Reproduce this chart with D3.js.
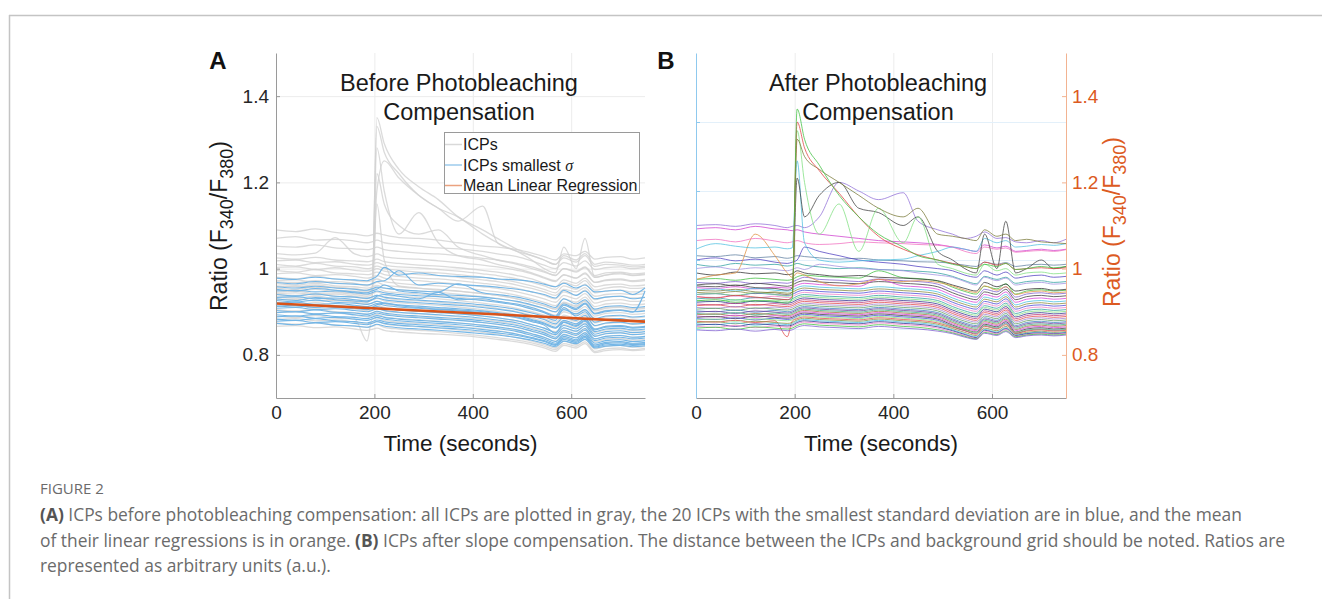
<!DOCTYPE html>
<html><head><meta charset="utf-8">
<script src="https://cdn.jsdelivr.net/npm/d3@7"></script>
<style>body{margin:0;background:#fff}svg{display:block}</style>
</head><body>
<svg id="c" width="1322" height="599"></svg>
<script>
// ---------- DATA ----------
const times = [0,40,80,120,160,185,195,205,220,250,290,330,370,420,450,490,520,545,568,585,610,628,648,670,700,725,750];
const xTicks = [0,200,400,600];
const yTicks = [0.8,1.0,1.2,1.4];
const yTickLabels = ["0.8","1","1.2","1.4"];
const hiddenLeftTicksB = [1,2,3,4];

// Panel A: all ICPs (gray)
const grayA = [
[1.090,1.086,1.092,1.084,1.080,1.076,1.078,1.082,1.078,1.072,1.070,1.066,1.060,1.052,1.050,1.044,1.036,1.028,1.020,1.034,1.030,1.040,1.022,1.026,1.028,1.022,1.025],
[1.070,1.074,1.066,1.068,1.064,1.060,1.062,1.066,1.060,1.056,1.052,1.048,1.046,1.040,1.034,1.028,1.018,1.008,1.000,1.014,1.006,1.018,.998,1.002,1.004,1.000,1.003],
[1.052,1.050,1.055,1.048,1.046,1.044,1.046,1.050,1.044,1.040,1.036,1.034,1.030,1.024,1.020,1.012,1.004,.994,.984,1.000,.994,1.004,.984,.990,.992,.988,.990],
[1.035,1.032,1.036,1.072,1.034,1.028,1.030,1.034,1.028,1.024,1.022,1.018,1.014,1.008,1.004,.996,.988,.978,.970,.986,.978,.990,.968,.974,.976,.972,.975],
[1.025,1.022,1.026,1.020,1.018,1.016,1.018,1.022,1.016,1.012,1.008,1.006,1.002,.996,.992,.984,.976,.966,.958,.974,.966,.978,.958,.962,.964,.960,.962],
[1.018,1.020,1.014,1.016,1.010,1.008,1.010,1.014,1.008,1.004,1.002,.998,.994,.988,.984,.976,.968,.960,.952,.968,.960,.972,.950,.955,.958,.954,.956],
[1.010,1.006,1.012,1.006,1.004,1.000,1.002,1.006,1.000,.996,.992,.990,.986,.980,.976,.968,.960,.952,.944,.960,.952,.964,.944,.948,.950,.946,.948],
[1.003,1.004,.998,1.002,.996,.994,.996,1.000,.994,.990,.986,.984,.980,.974,.970,.962,.954,.946,.938,.952,.946,.956,.936,.940,.942,.940,.942],
[.996,.992,.998,.990,.988,.986,.988,.992,.986,.982,.978,.976,.972,.966,.962,.954,.946,.938,.930,.946,.938,.950,.928,.934,.936,.932,.934],
[.988,.990,.984,.986,.982,.978,.980,.984,.978,.974,.972,.968,.964,.958,.954,.946,.938,.930,.922,.938,.930,.942,.920,.926,.928,.924,.926],
[.980,.976,.982,.976,.972,.970,.972,.976,.970,.966,.962,.960,.956,.950,.946,.938,.930,.922,.914,.930,.922,.934,.912,.918,.920,.916,.918],
[.972,.974,.968,.970,.966,.962,.964,.968,.962,.958,.954,.952,.948,.942,.938,.930,.922,.914,.906,.922,.914,.926,.904,.910,.912,.908,.910],
[.965,.962,.966,.960,.958,.955,.957,.961,.955,.951,.948,.945,.941,.935,.931,.923,.915,.907,.899,.915,.907,.919,.897,.903,.905,.901,.903],
[.958,.960,.955,.957,.952,.948,.950,.954,.948,.944,.941,.938,.934,.928,.924,.916,.908,.900,.892,.908,.900,.912,.890,.896,.898,.894,.896],
[.950,.947,.952,.946,.943,.940,.942,.946,.940,.936,.933,.930,.926,.920,.916,.908,.900,.892,.884,.900,.892,.904,.882,.888,.890,.886,.888],
[.942,.944,.939,.941,.936,.932,.934,.938,.932,.928,.925,.922,.918,.912,.908,.900,.892,.884,.876,.892,.884,.896,.874,.880,.882,.878,.880],
[.935,.932,.936,.930,.928,.925,.927,.931,.925,.921,.918,.915,.911,.905,.901,.893,.885,.877,.869,.885,.877,.889,.867,.873,.875,.871,.873],
[.928,.930,.925,.927,.922,.918,.920,.924,.918,.914,.911,.908,.904,.898,.894,.886,.878,.870,.862,.878,.870,.882,.860,.866,.868,.864,.866],
[.920,.917,.921,.915,.913,.910,.912,.916,.910,.906,.903,.900,.896,.890,.886,.878,.870,.862,.854,.870,.862,.874,.852,.858,.860,.856,.858],
[.912,.914,.909,.911,.906,.902,.904,.908,.902,.898,.895,.892,.888,.882,.878,.870,.862,.854,.846,.862,.854,.866,.844,.850,.852,.848,.850],
[.905,.902,.906,.900,.898,.895,.897,.901,.895,.891,.888,.885,.881,.875,.871,.863,.855,.847,.839,.855,.847,.859,.837,.843,.845,.841,.843],
[.898,.900,.895,.897,.892,.888,.890,.894,.888,.884,.881,.878,.874,.868,.864,.856,.848,.840,.832,.848,.840,.852,.830,.836,.838,.834,.836],
[.890,.887,.891,.885,.883,.832,.882,.886,.880,.876,.873,.870,.866,.860,.856,.848,.840,.832,.824,.840,.832,.844,.822,.828,.830,.826,.828],
[.882,.884,.879,.881,.876,.872,.874,.878,.872,.868,.865,.862,.858,.852,.848,.840,.832,.824,.816,.832,.824,.836,.814,.820,.822,.818,.820],
[.874,.871,.875,.869,.867,.864,.866,.870,.864,.860,.857,.854,.850,.844,.840,.834,.828,.820,.812,.826,.820,.830,.808,.814,.816,.812,.815],
[.866,.868,.863,.865,.860,.857,.859,.862,.857,.853,.850,.848,.845,.840,.836,.830,.824,.816,.808,.822,.816,.826,.805,.810,.812,.810,.812],
[.930,.928,.932,.926,.924,.922,.930,1.350,1.290,1.230,1.190,1.160,1.120,1.090,1.070,1.045,1.030,1.020,1.010,1.025,1.015,1.030,1.005,1.010,1.008,1.004,1.006],
[.945,.948,.942,.944,.940,.936,.940,1.330,1.270,1.220,1.170,1.140,1.110,1.145,1.060,1.040,1.020,1.000,.990,1.050,1.000,1.070,.980,.985,.990,.985,.988],
[.960,.958,.962,.956,.954,.950,.955,1.280,1.180,1.080,1.130,1.060,1.030,1.020,1.010,1.000,.990,.980,.972,.985,.978,.988,.968,.972,.974,.970,.972],
[.970,.968,.972,.966,.964,.960,.965,1.180,1.250,1.210,1.170,1.140,1.120,1.080,1.060,1.040,1.030,1.020,1.010,1.030,1.020,1.035,1.010,1.015,1.012,1.008,1.010],
[.940,.938,.942,.936,.934,.930,.934,1.150,1.020,.960,.955,.950,.948,.942,.938,.930,.922,.914,.906,.920,.912,.924,.902,.908,.910,.906,.908],
[.955,.952,.957,.950,.948,.945,.950,1.220,1.150,1.100,1.080,1.090,1.050,1.030,1.020,1.010,1.000,.992,.985,1.000,.992,1.002,.980,.985,.988,.984,.986]
];

// Panel A: 20 ICPs with smallest standard deviation (blue)
const blueA = [
[.978,.975,.980,.976,.974,.972,.976,.982,1.003,.985,.990,.984,.982,.980,.976,.974,.970,.964,.958,.966,.955,.962,.946,.948,.950,.940,.955],
[.968,.965,.970,.966,.964,.962,.965,.970,.972,.995,.962,.966,.963,.960,.957,.952,.946,.940,.932,.950,.938,.948,.930,.934,.936,.930,.933],
[.958,.955,.959,.955,.952,.950,.953,.957,.955,.951,.948,.946,.965,.944,.940,.934,.926,.918,.910,.930,.918,.928,.906,.912,.914,.910,.912],
[.948,.950,.946,.948,.944,.941,.944,.948,.944,.940,.937,.935,.931,.926,.922,.915,.906,.898,.888,.905,.895,.905,.884,.890,.892,.888,.890],
[.940,.937,.941,.936,.934,.931,.934,.938,.934,.930,.927,.924,.921,.916,.912,.905,.897,.889,.880,.910,.890,.900,.876,.882,.884,.880,.882],
[.933,.935,.930,.932,.928,.925,.928,.932,.928,.924,.921,.918,.915,.910,.906,.899,.890,.882,.872,.888,.880,.892,.868,.874,.876,.872,.874],
[.926,.923,.927,.922,.920,.917,.920,.924,.920,.916,.913,.910,.907,.902,.898,.891,.882,.874,.864,.880,.872,.884,.860,.866,.868,.864,.866],
[.920,.922,.917,.919,.915,.912,.915,.919,.915,.911,.908,.905,.902,.897,.893,.886,.877,.869,.850,.875,.866,.878,.854,.860,.862,.858,.860],
[.914,.911,.915,.910,.908,.905,.908,.912,.908,.904,.901,.898,.895,.890,.886,.879,.870,.862,.852,.868,.860,.872,.848,.854,.856,.852,.854],
[.908,.910,.905,.907,.903,.900,.903,.907,.903,.899,.896,.893,.890,.885,.881,.874,.865,.857,.847,.863,.855,.867,.843,.849,.851,.847,.849],
[.903,.900,.904,.899,.897,.894,.897,.901,.897,.893,.890,.887,.884,.879,.875,.868,.859,.851,.841,.857,.849,.861,.837,.843,.845,.841,.843],
[.898,.900,.895,.897,.893,.890,.893,.897,.893,.889,.886,.883,.880,.875,.871,.864,.855,.847,.837,.853,.845,.857,.833,.839,.841,.837,.839],
[.893,.890,.894,.889,.887,.884,.887,.891,.887,.883,.880,.877,.874,.869,.865,.858,.849,.841,.831,.847,.839,.851,.827,.833,.835,.831,.833],
[.888,.890,.885,.887,.883,.880,.883,.887,.883,.879,.876,.873,.870,.865,.861,.854,.845,.837,.827,.843,.835,.847,.823,.829,.831,.827,.829],
[.883,.880,.884,.879,.877,.874,.877,.881,.877,.873,.870,.867,.864,.859,.855,.848,.840,.833,.824,.839,.832,.843,.820,.826,.828,.824,.826],
[.878,.880,.875,.877,.873,.870,.873,.877,.873,.869,.866,.863,.860,.855,.851,.845,.838,.831,.822,.836,.829,.840,.818,.823,.825,.822,.824],
[.873,.870,.874,.869,.867,.864,.867,.871,.867,.863,.860,.857,.854,.849,.846,.840,.834,.827,.819,.832,.826,.836,.816,.820,.822,.819,.821],
[.930,.926,.933,.928,.925,.923,.928,.936,.940,.936,.930,.945,.928,.930,.924,.918,.910,.900,.890,.915,.905,.918,.895,.900,.903,.899,.948],
[.912,.915,.910,.914,.910,.906,.910,.916,.920,.914,.910,.906,.904,.900,.895,.888,.880,.872,.862,.876,.868,.880,.858,.864,.866,.862,.864],
[.952,.948,.954,.950,.946,.944,.948,.952,.962,.948,.944,.940,.938,.934,.930,.924,.916,.908,.900,.918,.908,.920,.896,.902,.904,.900,.902]
];

// Panel A: mean linear regression of the blue ICPs (orange)
const regTimes = [0,750];
const regValues = [0.919,0.877];

// Panel B: ICPs after slope compensation
const tracesB = [
[.975,.977,.973,.978,.975,.973,.975,.981,.985,.982,.980,.978,.995,.979,.977,.971,.957,.947,.941,.959,.953,.965,.941,.948,.951,.948,.950],
[.968,.966,.970,.965,.968,.966,.969,.974,.980,.975,.973,.970,.976,.972,.970,.964,.950,.940,.934,.952,.946,.958,.934,.941,.944,.941,.943],
[.962,.965,.960,.966,.962,.959,.962,.968,.972,.969,.967,.965,.970,.966,.964,.958,.944,.934,.928,.946,.940,.952,.928,.935,.938,.935,.937],
[.956,.954,.958,.953,.957,.955,.957,.962,.966,.963,.961,.959,.975,.960,.958,.952,.938,.928,.922,.940,.934,.946,.922,.929,.932,.929,.931],
[.950,.953,.948,.954,.950,.948,.950,.956,.960,.957,.955,.953,.958,.954,.952,.946,.932,.922,.916,.934,.928,.940,.916,.923,.926,.923,.925],
[.945,.943,.947,.942,.946,.943,.945,.951,.955,.952,.950,.948,.953,.949,.947,.941,.927,.917,.911,.929,.923,.935,.911,.918,.921,.918,.920],
[.940,.942,.937,.943,.940,.938,.940,.946,.950,.947,.945,.943,.948,.944,.942,.936,.922,.912,.906,.924,.918,.930,.906,.913,.916,.913,.915],
[.935,.933,.937,.932,.936,.933,.935,.941,.945,.942,.940,.938,.943,.939,.937,.931,.917,.907,.901,.919,.913,.925,.901,.908,.911,.908,.910],
[.930,.932,.927,.933,.930,.928,.930,.936,.940,.937,.935,.933,.938,.934,.932,.926,.912,.902,.896,.914,.908,.920,.896,.903,.906,.903,.905],
[.926,.924,.928,.923,.927,.924,.926,.932,.936,.933,.931,.929,.934,.930,.928,.922,.908,.898,.892,.910,.904,.916,.892,.899,.902,.899,.901],
[.922,.924,.919,.925,.922,.920,.922,.928,.932,.929,.927,.925,.930,.926,.924,.918,.904,.894,.888,.906,.900,.912,.888,.895,.898,.895,.897],
[.918,.916,.920,.915,.919,.916,.918,.924,.928,.925,.923,.921,.926,.922,.920,.914,.900,.890,.884,.902,.896,.908,.884,.891,.894,.891,.893],
[.914,.916,.911,.917,.914,.912,.914,.920,.924,.921,.919,.917,.922,.918,.916,.910,.896,.886,.880,.898,.892,.904,.880,.887,.890,.887,.889],
[.910,.908,.912,.907,.911,.908,.910,.916,.920,.917,.915,.913,.918,.914,.912,.906,.892,.882,.876,.894,.888,.900,.876,.883,.886,.883,.885],
[.906,.908,.903,.909,.906,.904,.906,.912,.916,.913,.911,.909,.914,.910,.908,.902,.888,.878,.872,.890,.884,.896,.872,.879,.882,.879,.881],
[.902,.900,.904,.899,.903,.900,.902,.908,.912,.909,.907,.905,.910,.906,.904,.898,.884,.874,.868,.886,.880,.892,.868,.875,.878,.875,.877],
[.899,.901,.896,.902,.899,.897,.899,.905,.909,.906,.904,.902,.907,.903,.901,.895,.881,.871,.865,.883,.877,.889,.865,.872,.875,.872,.874],
[.896,.894,.898,.893,.897,.894,.896,.902,.906,.903,.901,.899,.904,.900,.898,.892,.878,.868,.862,.880,.874,.886,.862,.869,.872,.869,.871],
[.893,.895,.890,.896,.893,.891,.893,.899,.903,.900,.898,.896,.901,.897,.895,.889,.875,.865,.859,.877,.871,.883,.859,.866,.869,.866,.868],
[.890,.888,.892,.887,.891,.888,.890,.896,.900,.897,.895,.893,.898,.894,.892,.886,.872,.862,.856,.874,.868,.880,.856,.863,.866,.863,.865],
[.887,.889,.884,.890,.887,.885,.887,.893,.897,.894,.892,.890,.895,.891,.889,.883,.869,.859,.853,.871,.865,.877,.853,.860,.863,.860,.862],
[.884,.882,.886,.881,.885,.882,.884,.890,.894,.891,.889,.887,.892,.888,.886,.880,.866,.856,.850,.868,.862,.874,.850,.857,.860,.857,.859],
[.881,.883,.878,.884,.881,.879,.881,.887,.891,.888,.886,.884,.889,.885,.883,.877,.866,.858,.852,.868,.862,.872,.852,.857,.860,.857,.859],
[.878,.876,.880,.875,.879,.842,.878,.884,.888,.885,.883,.881,.886,.882,.880,.874,.864,.856,.848,.866,.860,.870,.850,.855,.858,.855,.857],
[.875,.877,.872,.878,.875,.873,.875,.881,.885,.882,.880,.878,.883,.879,.877,.871,.861,.852,.845,.862,.856,.866,.848,.852,.855,.852,.854],
[.872,.870,.874,.869,.873,.870,.872,.878,.882,.879,.877,.875,.880,.876,.874,.868,.858,.849,.842,.859,.853,.863,.846,.850,.853,.850,.852],
[.869,.871,.866,.872,.869,.867,.869,.875,.879,.876,.874,.872,.877,.873,.871,.865,.856,.847,.840,.857,.851,.861,.845,.849,.851,.849,.851],
[.866,.864,.868,.863,.867,.864,.866,.872,.876,.873,.871,.869,.874,.870,.868,.862,.853,.845,.838,.855,.849,.859,.843,.847,.850,.848,.850],
[.862,.864,.859,.865,.862,.860,.862,.868,.872,.869,.867,.865,.870,.866,.864,.858,.851,.843,.837,.852,.847,.856,.842,.846,.848,.846,.848],
[.858,.856,.860,.855,.859,.856,.858,.864,.868,.865,.863,.861,.866,.862,.860,.855,.849,.841,.836,.850,.845,.854,.840,.844,.846,.844,.846],
[1.030,1.028,1.032,1.025,1.028,1.024,1.026,1.030,1.028,1.025,1.022,1.024,1.020,1.018,1.016,1.015,1.012,1.008,1.005,1.015,1.010,1.014,1.005,1.008,1.010,1.008,1.010],
[1.010,1.005,1.012,1.008,1.010,1.006,1.008,1.012,1.008,1.004,1.000,1.002,.998,.996,.994,.990,.982,.972,.965,.982,.975,.980,.966,.970,.972,.968,.970],
[1.000,1.004,.998,1.002,.998,.995,.998,1.002,.998,1.010,1.005,1.000,.998,.995,.990,.985,.980,.970,.962,.980,.972,.978,.962,.966,.968,.964,.966],
[.990,.985,.992,.988,.990,.986,.988,.995,.990,.986,.982,.984,.980,.978,.976,.972,.962,.954,.948,.968,.958,.964,.948,.952,.954,.950,.952],
[1.020,1.025,1.018,1.022,1.015,1.012,1.015,1.020,1.050,1.040,1.030,1.020,1.015,1.010,1.005,1.000,.995,.985,.980,.995,.985,.992,.978,.982,.985,.980,.982],
[.975,.985,.990,1.080,1.030,.990,.980,.990,.985,.970,.960,.965,.975,.970,.972,.968,.960,.950,.945,.960,.950,.958,.940,.945,.948,.944,.946],
[1.092,1.095,1.090,1.098,1.092,1.090,1.088,1.090,1.085,1.080,1.075,1.070,1.065,1.062,1.060,1.056,1.050,1.045,1.040,1.055,1.048,1.052,1.040,1.042,1.045,1.042,1.045],
[1.100,1.102,1.098,1.104,1.100,1.095,1.098,1.100,1.095,1.120,1.200,1.180,1.160,1.176,1.110,1.090,1.080,1.070,1.075,1.085,1.070,1.072,1.062,1.060,1.065,1.060,1.068],
[1.065,1.068,1.062,1.070,1.064,1.060,1.062,1.065,1.060,1.056,1.058,1.062,1.060,1.058,1.056,1.054,1.050,1.040,1.035,1.050,1.045,1.048,1.038,1.040,1.042,1.040,1.044],
[1.045,1.058,1.052,1.048,1.050,1.046,1.048,1.250,1.060,1.020,1.015,1.018,1.020,1.022,1.030,1.040,1.050,1.045,1.040,1.070,1.060,1.065,1.050,1.052,1.056,1.054,1.058],
[.960,.958,.962,.956,.954,.950,.955,1.210,1.120,1.170,1.200,1.140,1.130,1.100,1.120,1.040,1.020,1.000,.990,1.080,1.000,1.110,.990,1.000,1.020,1.000,1.005],
[.940,.942,.938,.944,.940,.936,.940,1.320,1.200,1.080,1.150,1.040,1.140,1.060,1.120,1.010,1.000,.990,.985,1.010,.995,1.000,.985,.990,.992,.988,.990],
[.950,.948,.952,.946,.944,.940,.945,1.300,1.260,1.230,1.200,1.170,1.140,1.120,1.140,1.080,1.075,1.070,1.065,1.090,1.075,1.080,1.065,1.068,1.062,1.060,1.058],
[.935,.932,.938,.934,.930,.928,.935,1.340,1.280,1.227,1.175,1.120,1.075,1.045,1.032,1.020,1.012,1.005,1.000,1.015,1.008,1.012,.998,1.000,1.002,1.000,1.002],
[.925,.928,.922,.926,.924,.920,.930,1.370,1.300,1.240,1.170,1.120,1.080,1.050,1.030,1.020,1.010,1.005,1.000,1.010,1.005,1.012,.998,1.000,1.005,1.002,1.005]
];
const colorsB = ["#3fbf3f","#7f5fd0","#3c3c3c","#d63fd6","#45bfe0","#8a8a3c","#4848d8","#ee7fc8","#2f9f9f","#7fdf7f","#2f2f8f","#bf3f7f","#e04848","#a07fd0","#5f9f5f","#3f7fbf","#6f3f9f","#3faf7f","#9f6f3f","#d63fd6",
"#3c3c3c","#4848d8","#7fdf7f","#e04848","#8a8a3c","#45bfe0","#2f2f8f","#ee7fc8","#3fbf3f","#7f5fd0",
"#6080a0","#30a0a0","#a090e0","#303030","#5040c0","#e09040","#d040d0","#9070d8","#f070c0","#50c0e0","#404040","#80e080","#7a7a3a","#e04040","#40c040"];

// ---------- DRAW ----------
const svg = d3.select("#c");
const FONT = "'Liberation Sans', Arial, sans-serif";
const yTop = 53, yBot = 398;
const y = d3.scaleLinear().domain([0.7,1.5]).range([yBot,yTop]);
const xA = d3.scaleLinear().domain([0,750]).range([276,645]);
const xB = d3.scaleLinear().domain([0,750]).range([696,1066]);
const yHiddenB = d3.scaleLinear().domain([0,5]).range([yBot,yTop]);

// frame
svg.append("line").attr("x1",9).attr("x2",1322).attr("y1",15.5).attr("y2",15.5).attr("stroke","#c4c4c4").attr("stroke-width",1.5);
svg.append("line").attr("x1",9.5).attr("x2",9.5).attr("y1",15).attr("y2",599).attr("stroke","#c4c4c4").attr("stroke-width",1.5);

function vgrid(x){
  const g = svg.append("g").attr("transform",`translate(0,${yBot})`)
    .call(d3.axisBottom(x).tickValues(xTicks.slice(1)).tickSize(-(yBot-yTop)).tickFormat(""));
  g.select(".domain").remove();
  g.selectAll("line").attr("stroke","#ececec");
}
function hgrid(x, scale, ticks, color){
  const g = svg.append("g").attr("transform",`translate(${x.range()[0]},0)`)
    .call(d3.axisLeft(scale).tickValues(ticks).tickSize(-(x.range()[1]-x.range()[0])).tickFormat(""));
  g.select(".domain").remove();
  g.selectAll("line").attr("stroke",color);
}
vgrid(xA); hgrid(xA, y, yTicks, "#ececec");
vgrid(xB); hgrid(xB, yHiddenB, hiddenLeftTicksB, "#e3f0fa");

function lineGen(x){ return d3.line().x((d,i)=>x(times[i])).y(d=>y(d)).curve(d3.curveMonotoneX); }

// Panel A traces
const lA = lineGen(xA);
svg.append("g").selectAll("path").data(grayA).join("path").attr("d",lA)
  .attr("fill","none").attr("stroke","#d2d2d2").attr("stroke-opacity",0.8).attr("stroke-width",1.3);
svg.append("g").selectAll("path").data(blueA).join("path").attr("d",lA)
  .attr("fill","none").attr("stroke","#74b6e6").attr("stroke-width",1.1);
svg.append("path").datum(regValues)
  .attr("d",d3.line().x((d,i)=>xA(regTimes[i])).y(d=>y(d)))
  .attr("fill","none").attr("stroke","#d95319").attr("stroke-width",2.6);

// Panel B traces
const lB = lineGen(xB);
svg.append("g").selectAll("path").data(tracesB).join("path").attr("d",lB)
  .attr("fill","none").attr("stroke",(d,i)=>colorsB[i%colorsB.length]).attr("stroke-opacity",0.85).attr("stroke-width",0.9);

// Axes
function styleAxis(g, lineColor, textColor){
  g.select(".domain").attr("stroke",lineColor);
  g.selectAll(".tick line").attr("stroke",lineColor);
  g.selectAll("text").attr("fill",textColor).style("font-family",FONT).style("font-size","19px");
}
const axA = svg.append("g").attr("transform",`translate(0,${yBot})`)
  .call(d3.axisBottom(xA).tickValues(xTicks).tickSizeInner(-4).tickSizeOuter(0).tickPadding(8));
styleAxis(axA,"#9a9a9a","#262626");
const ayA = svg.append("g").attr("transform",`translate(${xA.range()[0]},0)`)
  .call(d3.axisLeft(y).tickValues(yTicks).tickFormat((d,i)=>yTickLabels[i]).tickSizeInner(-4).tickSizeOuter(0).tickPadding(7));
styleAxis(ayA,"#9a9a9a","#262626");

const axB = svg.append("g").attr("transform",`translate(0,${yBot})`)
  .call(d3.axisBottom(xB).tickValues(xTicks).tickSizeInner(-4).tickSizeOuter(0).tickPadding(8));
styleAxis(axB,"#9a9a9a","#262626");
const ayBL = svg.append("g").attr("transform",`translate(${xB.range()[0]},0)`)
  .call(d3.axisLeft(yHiddenB).tickValues(hiddenLeftTicksB).tickSizeInner(-4).tickSizeOuter(0).tickFormat(""));
ayBL.select(".domain").attr("stroke","#8fc9ee");
ayBL.selectAll(".tick line").attr("stroke","#8fc9ee");
const ayBR = svg.append("g").attr("transform",`translate(${xB.range()[1]},0)`)
  .call(d3.axisRight(y).tickValues(yTicks).tickFormat((d,i)=>yTickLabels[i]).tickSizeInner(-4).tickSizeOuter(0).tickPadding(6));
styleAxis(ayBR,"#f2b391","#dc5a22");

// Texts
function txt(x,yy,s,size,opts={}){
  return svg.append("text").attr("x",x).attr("y",yy).attr("text-anchor",opts.anchor||"middle")
    .attr("fill",opts.fill||"#1a1a1a").style("font-family",opts.font||FONT).style("font-size",size+"px")
    .style("font-weight",opts.weight||"normal").text(s);
}
txt(218,68.5,"A",24,{weight:"bold",fill:"#111"});
txt(666,68.5,"B",24,{weight:"bold",fill:"#111"});
txt(459,90.5,"Before Photobleaching",23.5);
txt(459,120,"Compensation",23.5);
txt(878,90.5,"After Photobleaching",23.5);
txt(878,120,"Compensation",23.5);
txt(460.5,451,"Time (seconds)",22.5);
txt(881,451,"Time (seconds)",22.5);

function ratioLabel(x,cy,color){
  const t = svg.append("text").attr("transform",`translate(${x},${cy}) rotate(-90)`).attr("text-anchor","middle")
    .attr("fill",color).style("font-family",FONT).style("font-size","23px");
  t.append("tspan").text("Ratio (F");
  t.append("tspan").attr("dy",6).style("font-size","18px").text("340");
  t.append("tspan").attr("dy",-6).text("/F");
  t.append("tspan").attr("dy",6).style("font-size","18px").text("380");
  t.append("tspan").attr("dy",-6).text(")");
}
ratioLabel(227,226,"#1a1a1a");
ratioLabel(1120,222,"#dc5a22");

// Legend
const lg = svg.append("g");
lg.append("rect").attr("x",444.5).attr("y",132.5).attr("width",195).attr("height",61).attr("fill","#fff").attr("stroke","#9a9a9a").attr("stroke-width",1);
const legItems = [
  {label:"ICPs", color:"#d9d9d9"},
  {label:"ICPs smallest ", color:"#9ccbec", sigma:true},
  {label:"Mean Linear Regression", color:"#eba27f"}
];
legItems.forEach((it,i)=>{
  const cy = 144.5 + i*20.5;
  lg.append("line").attr("x1",445).attr("x2",462).attr("y1",cy).attr("y2",cy).attr("stroke",it.color).attr("stroke-width",1.5);
  const t = lg.append("text").attr("x",463).attr("y",cy+5.8).attr("fill","#1a1a1a").style("font-family",FONT).style("font-size","16px").text(it.label);
  if(it.sigma) t.append("tspan").style("font-style","italic").style("font-family","'Liberation Serif', serif").text("σ");
});

// Caption
const capFont = "'Open Sans', sans-serif";
txt(40,494,"FIGURE 2",15,{anchor:"start",fill:"#6b6b6b",font:capFont});
const capLines = [
  [["(A)",true],[" ICPs before photobleaching compensation: all ICPs are plotted in gray, the 20 ICPs with the smallest standard deviation are in blue, and the mean",false]],
  [["of their linear regressions is in orange. ",false],["(B)",true],[" ICPs after slope compensation. The distance between the ICPs and background grid should be noted. Ratios are",false]],
  [["represented as arbitrary units (a.u.).",false]]
];
capLines.forEach((parts,i)=>{
  const t = svg.append("text").attr("x",40).attr("y",521+i*25.5).attr("fill","#6b6b6b")
    .style("font-family",capFont).style("font-size","17.4px");
  parts.forEach(p=>t.append("tspan").style("font-weight",p[1]?"bold":"normal").attr("fill",p[1]?"#555":"#6b6b6b").text(p[0]));
});
</script>
</body></html>
